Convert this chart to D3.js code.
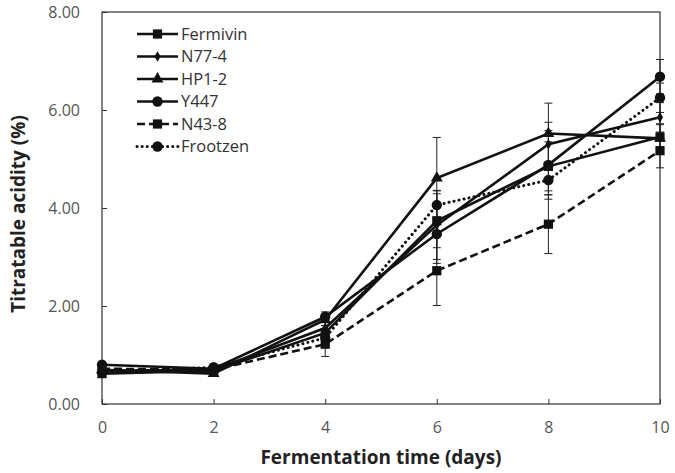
<!DOCTYPE html>
<html>
<head>
<meta charset="utf-8">
<script src="https://cdn.jsdelivr.net/npm/d3@7"></script>
<style>
  body { margin: 0; background: #fff; }
  .tick text { font-family: "Open Sans", sans-serif; font-size: 16px; fill: #555; }
  .axis-title { font-family: "Open Sans", sans-serif; font-weight: bold; font-size: 19px; fill: #222; }
  .legend text { font-family: "Open Sans", sans-serif; font-size: 16.5px; fill: #333; }
</style>
</head>
<body>
<div id="chart"></div>
<script>
// data
const days = [0, 2, 4, 6, 8, 10];
const seriesNames = ["Fermivin", "N77-4", "HP1-2", "Y447", "N43-8", "Frootzen"];
const fermivin = [0.62, 0.68, 1.45, 3.74, 4.85, 5.45];
const n774     = [0.68, 0.70, 1.55, 3.65, 5.30, 5.85];
const hp12     = [0.70, 0.62, 1.72, 4.61, 5.52, 5.42];
const y447     = [0.80, 0.72, 1.78, 3.47, 4.88, 6.68];
const n438     = [0.72, 0.70, 1.22, 2.72, 3.67, 5.17];
const frootzen = [0.65, 0.75, 1.35, 4.06, 4.57, 6.25];
// standard deviations
const fermivinSd = [0.04, 0.04, 0.15, 0.55, 0.50, 0.25];
const n774Sd     = [0.04, 0.04, 0.12, 0.70, 0.45, 0.30];
const hp12Sd     = [0.04, 0.04, 0.12, 0.83, 0.62, 0.30];
const y447Sd     = [0.05, 0.04, 0.10, 0.60, 0.70, 0.35];
const n438Sd     = [0.04, 0.04, 0.25, 0.71, 0.60, 0.35];
const frootzenSd = [0.04, 0.04, 0.15, 0.30, 0.30, 0.30];
const yTicks = [0, 2, 4, 6, 8];
const xTicks = [0, 2, 4, 6, 8, 10];

const svgWidth = 675, svgHeight = 473;
const margin = {top: 12, right: 15, bottom: 69, left: 102};
const width = svgWidth - margin.left - margin.right,
      height = svgHeight - margin.top - margin.bottom;

const svg = d3.select("#chart").append("svg")
  .attr("width", svgWidth).attr("height", svgHeight);
const g = svg.append("g").attr("transform", `translate(${margin.left},${margin.top})`);

const x = d3.scaleLinear().domain([0, 10]).range([0, width]);
const y = d3.scaleLinear().domain([0, 8]).range([height, 0]);

// series setup
const series = [
  {name: seriesNames[0], vals: fermivin, sd: fermivinSd, marker: "square", dash: null, size: 10},
  {name: seriesNames[1], vals: n774,     sd: n774Sd,     marker: "diamond", dash: null, size: 6},
  {name: seriesNames[2], vals: hp12,     sd: hp12Sd,     marker: "triangle", dash: null, size: 8.5},
  {name: seriesNames[3], vals: y447,     sd: y447Sd,     marker: "circle", dash: null, size: 10},
  {name: seriesNames[4], vals: n438,     sd: n438Sd,     marker: "square", dash: "8,4", size: 10},
  {name: seriesNames[5], vals: frootzen, sd: frootzenSd, marker: "circle", dash: "0.1,5", size: 10}
];

const symbolType = {
  square: d3.symbolSquare, diamond: d3.symbolDiamond,
  triangle: d3.symbolTriangle, circle: d3.symbolCircle
};
function sym(s) {
  return d3.symbol().type(symbolType[s.marker]).size(s.size * s.size * (s.marker === "diamond" ? 0.9 : 0.85))();
}
const isDotted = s => s.dash && s.dash.startsWith("0.1");

// frame
g.append("rect").attr("width", width).attr("height", height)
  .attr("fill", "none").attr("stroke", "#333").attr("stroke-width", 1.2);

// axes (inward ticks)
g.append("g")
  .attr("transform", `translate(0,${height})`)
  .call(d3.axisBottom(x).tickValues(xTicks).tickSize(-5).tickPadding(18).tickFormat(d3.format("d")))
  .call(a => a.select(".domain").remove())
  .call(a => a.selectAll("line").attr("stroke", "#333"));

g.append("g")
  .call(d3.axisLeft(y).tickValues(yTicks).tickSize(-5).tickPadding(22).tickFormat(d3.format(".2f")))
  .call(a => a.select(".domain").remove())
  .call(a => a.selectAll("line").attr("stroke", "#333"));

// axis titles
svg.append("text").attr("class", "axis-title")
  .attr("x", margin.left + width / 2).attr("y", 464)
  .attr("text-anchor", "middle").text("Fermentation time (days)");
svg.append("text").attr("class", "axis-title")
  .attr("transform", `translate(25,${margin.top + height / 2 + 6}) rotate(-90)`)
  .attr("text-anchor", "middle").text("Titratable acidity (%)");

// error bars
series.forEach(s => {
  const eb = g.append("g");
  days.forEach((d, i) => {
    const lo = y(s.vals[i] - s.sd[i]), hi = y(s.vals[i] + s.sd[i]);
    eb.append("line").attr("x1", x(d)).attr("x2", x(d)).attr("y1", lo).attr("y2", hi)
      .attr("stroke", "#222").attr("stroke-width", 1);
    [lo, hi].forEach(v => eb.append("line")
      .attr("x1", x(d) - 4).attr("x2", x(d) + 4).attr("y1", v).attr("y2", v)
      .attr("stroke", "#222").attr("stroke-width", 1));
  });
});

// lines and markers
const line = d3.line().x((d, i) => x(days[i])).y(d => y(d));
series.forEach(s => {
  g.append("path").datum(s.vals)
    .attr("d", line).attr("fill", "none").attr("stroke", "#111")
    .attr("stroke-width", isDotted(s) ? 3 : 2.6)
    .attr("stroke-linecap", isDotted(s) ? "round" : "butt")
    .attr("stroke-dasharray", s.dash);
  g.selectAll(null).data(s.vals).enter().append("path")
    .attr("d", sym(s))
    .attr("transform", (d, i) => `translate(${x(days[i])},${y(d)})`)
    .attr("fill", "#111");
});

// legend
const legend = svg.append("g").attr("class", "legend");
series.forEach((s, i) => {
  const ly = 34 + i * 22.5;
  const row = legend.append("g").attr("transform", `translate(137,${ly})`);
  row.append("line").attr("x1", 0).attr("x2", 41).attr("y1", 0).attr("y2", 0)
    .attr("stroke", "#111")
    .attr("stroke-width", isDotted(s) ? 3 : 2.6)
    .attr("stroke-linecap", isDotted(s) ? "round" : "butt")
    .attr("stroke-dasharray", s.dash);
  row.append("path").attr("d", sym(s)).attr("transform", "translate(20.5,0)").attr("fill", "#111");
  row.append("text").attr("x", 44).attr("y", 0).attr("dy", "0.35em").text(s.name);
});
</script>
</body>
</html>
